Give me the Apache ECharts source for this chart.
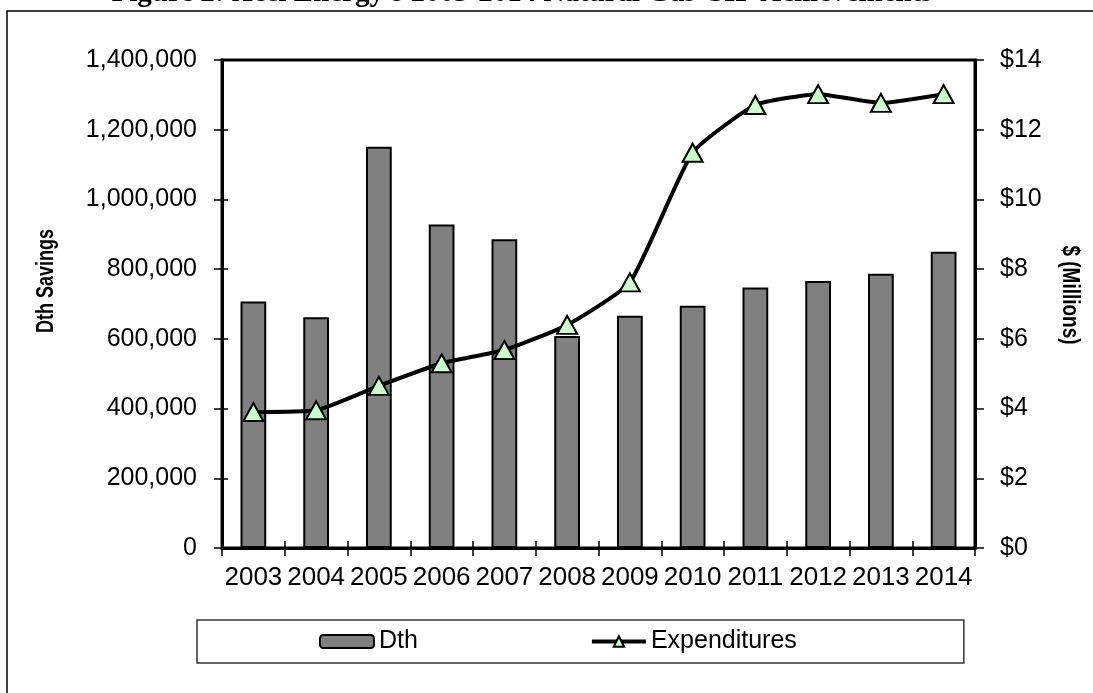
<!DOCTYPE html>
<html>
<head>
<meta charset="utf-8">
<script src="https://cdn.jsdelivr.net/npm/echarts@6/dist/echarts.min.js"></script>
<style>
  html, body { margin: 0; padding: 0; background: #fff; }
  #chart { width: 1093px; height: 693px; }
</style>
</head>
<body>
<div id="chart"></div>
<script>
// data
var years = ['2003', '2004', '2005', '2006', '2007', '2008', '2009', '2010', '2011', '2012', '2013', '2014'];
var dthSavings = [707000, 662000, 1151000, 928000, 886000, 608000, 666000, 695000, 747000, 766000, 787000, 850000];
var expenditures = [3.9, 3.95, 4.65, 5.3, 5.68, 6.4, 7.62, 11.34, 12.71, 13.02, 12.77, 13.02];

var font = 'Liberation Sans, Arial, sans-serif';

var chart = echarts.init(document.getElementById('chart'));

var option = {
    animation: false,
    backgroundColor: '#fff',
    graphic: [
        {
            type: 'rect',
            shape: {x: 7, y: 11, width: 1200, height: 800},
            style: {fill: 'none', stroke: '#000', lineWidth: 1.5},
            z: 0
        },
        {
            type: 'text',
            x: 522,
            y: -6,
            style: {
                text: "Figure 2: Xcel Energy's 2003-2014 Natural Gas CIP Achievements",
                font: 'bold 29px "Liberation Serif", "Times New Roman", serif',
                fill: '#000',
                align: 'center',
                verticalAlign: 'middle'
            }
        },
        {
            // left axis title, read bottom to top
            type: 'text',
            x: 47,
            y: 281,
            rotation: Math.PI / 2,
            scaleY: 1.3,
            style: {
                text: 'Dth Savings',
                font: 'bold 18px ' + font,
                fill: '#000',
                align: 'center',
                verticalAlign: 'middle'
            }
        },
        {
            // right axis title, read top to bottom
            type: 'text',
            x: 1070,
            y: 295,
            rotation: -Math.PI / 2,
            scaleY: 1.3,
            style: {
                text: '$ (Millions)',
                font: 'bold 19px ' + font,
                fill: '#000',
                align: 'center',
                verticalAlign: 'middle'
            }
        }
    ],
    grid: {
        left: 222,
        right: 118,
        top: 60,
        bottom: 145,
        show: true,
        borderColor: '#000',
        borderWidth: 3,
        backgroundColor: 'transparent'
    },
    legend: {
        left: 197,
        top: 620,
        width: 765,
        padding: [9, 167, 9, 122],
        borderColor: '#333',
        borderWidth: 1.5,
        itemGap: 172,
        itemWidth: 54,
        itemHeight: 13,
        textStyle: {fontFamily: font, fontSize: 25, color: '#000'},
        data: [
            {name: 'Dth'},
            {name: 'Expenditures', lineStyle: {width: 4, color: '#000'}}
        ]
    },
    xAxis: [
        {
            type: 'category',
            data: years,
            axisLine: {lineStyle: {color: '#000', width: 3}},
            axisTick: {show: true, length: 8, lineStyle: {color: '#000', width: 1.5}},
            axisLabel: {fontFamily: font, fontSize: 26, color: '#000', margin: 17, interval: 0}
        },
        {
            // inner half of the crossing ticks
            type: 'category',
            data: years,
            position: 'bottom',
            axisLine: {show: false},
            axisTick: {show: true, inside: true, length: 7, lineStyle: {color: '#000', width: 1.5}},
            axisLabel: {show: false}
        }
    ],
    yAxis: [
        {
            type: 'value',
            min: 0,
            max: 1400000,
            interval: 200000,
            position: 'left',
            axisLine: {show: true, lineStyle: {color: '#000', width: 3}},
            axisTick: {show: true, length: 8, lineStyle: {color: '#000', width: 1.5}},
            axisLabel: {
                fontFamily: font, fontSize: 25, color: '#000', margin: 25,
                formatter: function (v) { return v.toLocaleString('en-US'); }
            },
            splitLine: {show: false}
        },
        {
            type: 'value',
            min: 0,
            max: 14,
            interval: 2,
            position: 'right',
            axisLine: {show: true, lineStyle: {color: '#000', width: 3}},
            axisTick: {show: true, length: 9, lineStyle: {color: '#000', width: 1.5}},
            axisLabel: {
                fontFamily: font, fontSize: 25, color: '#000', margin: 25,
                formatter: function (v) { return '$' + v; }
            },
            splitLine: {show: false}
        },
        {
            // inner half of the crossing ticks on the left
            type: 'value',
            min: 0,
            max: 1400000,
            interval: 200000,
            position: 'left',
            axisLine: {show: false},
            axisTick: {show: true, inside: true, length: 6, lineStyle: {color: '#000', width: 1.5}},
            axisLabel: {show: false},
            splitLine: {show: false}
        }
    ],
    series: [
        {
            name: 'Dth',
            type: 'bar',
            data: dthSavings,
            barWidth: '41%',
            itemStyle: {color: '#808080', borderColor: '#000', borderWidth: 2}
        },
        {
            name: 'Expenditures',
            type: 'line',
            yAxisIndex: 1,
            data: expenditures,
            smooth: 0.16,
            symbol: 'triangle',
            symbolSize: [20, 18],
            lineStyle: {color: '#000', width: 4},
            itemStyle: {color: '#ccffcc', borderColor: '#000', borderWidth: 2},
            z: 5
        }
    ]
};

chart.setOption(option);
</script>
</body>
</html>
